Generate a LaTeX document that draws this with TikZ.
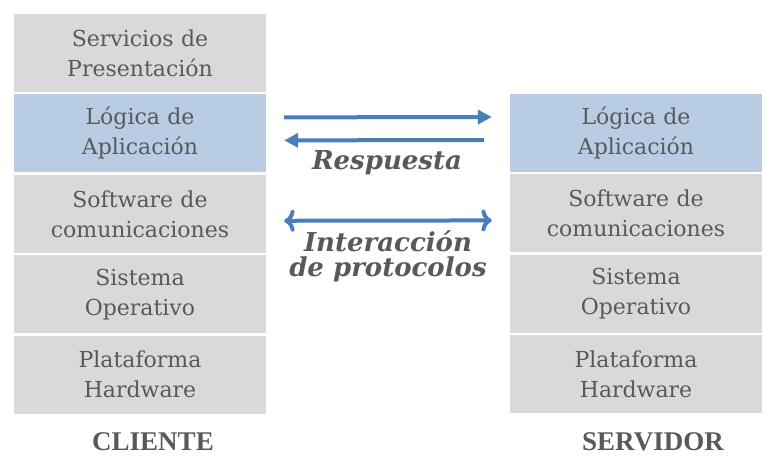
\documentclass[tikz,border=0pt]{standalone}
\usepackage{fontspec}
\setmainfont{DejaVu Serif}
\newfontfamily\rotulofont{Liberation Serif}
\usetikzlibrary{positioning,arrows.meta}
\definecolor{capagris}{HTML}{D9D9D9}
\definecolor{capaazul}{HTML}{B8CCE4}
\definecolor{textogris}{HTML}{595959}
\definecolor{flecha}{HTML}{4A7EBB}

\begin{document}
\begin{tikzpicture}[x=1pt,y=-1pt,
    capa/.style={fill=capagris, minimum width=252pt, minimum height=78pt,
        text width=250pt, align=center, inner sep=0pt, text=textogris,
        font=\fontsize{22}{30}\selectfont},
    activa/.style={capa, fill=capaazul},
    flujo/.style={draw=flecha, line width=4pt, -{Triangle[length=14pt,width=14pt]}},
    rotulo/.style={text=textogris, align=center, font=\fontsize{26}{25}\selectfont\bfseries\itshape},
    extremo/.style={text=textogris, font=\rotulofont\bfseries\fontsize{27}{30}\selectfont}]
    \useasboundingbox (0,0) rectangle (775,465);

    % cliente
    \node[capa] (presC) at (140,53) {Servicios de\\Presentación};
    \node[activa, below=2pt of presC] (logC) {Lógica de\\Aplicación};
    \node[capa, below=2pt of logC] (comC) {Software de\\comunicaciones};
    \node[capa, below=2pt of comC] (soC) {Sistema\\Operativo};
    \node[capa, below=2pt of soC] (hwC) {Plataforma\\Hardware};
    \node[extremo] (cliente) at (153,442) {CLIENTE};

    % servidor
    \node[activa] (logS) at (636,133) {Lógica de\\Aplicación};
    \node[capa, below=2pt of logS] (comS) {Software de\\comunicaciones};
    \node[capa, below=2pt of comS] (soS) {Sistema\\Operativo};
    \node[capa, below=2pt of soS] (hwS) {Plataforma\\Hardware};
    \node[extremo] (servidor) at (653,442) {SERVIDOR};

    % mensajes
    \draw[flujo, shorten <=18pt, shorten >=18pt] ([yshift=16pt]logC.east) -- ([yshift=16pt]logS.west);
    \draw[flujo, shorten <=26pt, shorten >=18pt] ([yshift=-7pt]logS.west) -- ([yshift=-7pt]logC.east);
    \node[rotulo] (respuesta) at (387,163) {Respuesta};
    \draw[flujo, <->, shorten <=18pt, shorten >=18pt] ([yshift=-7pt]comC.east) -- ([yshift=-7pt]comS.west);
    \node[rotulo] (protocolos) at (388,256) {Interacción\\de protocolos};
\end{tikzpicture}
\end{document}
